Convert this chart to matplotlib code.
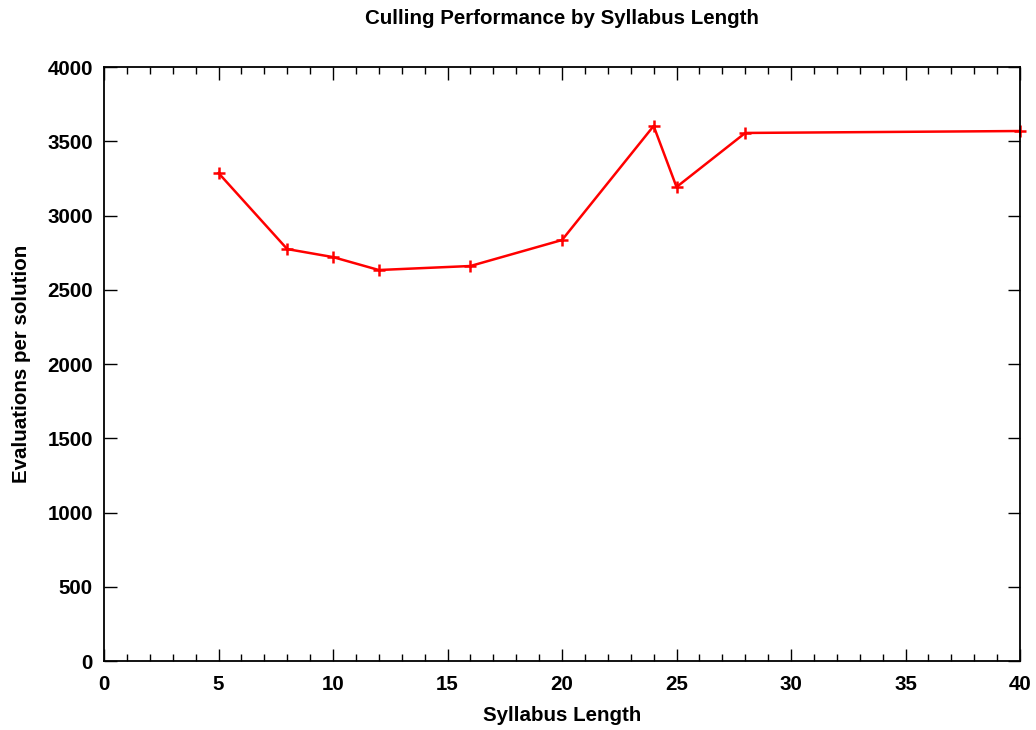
import matplotlib
matplotlib.use("Agg")
import matplotlib.pyplot as plt
from matplotlib.ticker import MultipleLocator

# ─── Data ────────────────────────────────────────────────────────
syllabus_length = [5, 8, 10, 12, 16, 20, 24, 25, 28, 40]
evals_per_solution = [3286, 2774, 2720, 2633, 2660, 2835, 3603, 3192, 3556, 3569]

plt.rcParams["font.family"] = ["Liberation Sans", "DejaVu Sans"]
plt.rcParams["font.weight"] = "bold"
FS = 14.8

fig = plt.figure(figsize=(10.36, 7.30), dpi=100)
ax = fig.add_axes([0.1004, 0.0945, 0.8842, 0.8137])

ax.plot(syllabus_length, evals_per_solution, color="red", linewidth=1.8,
        marker="+", markersize=8, markeredgewidth=1.8, clip_on=False)

ax.set_xlim(0, 40)
ax.set_ylim(0, 4000)
ax.xaxis.set_major_locator(MultipleLocator(5))
ax.xaxis.set_minor_locator(MultipleLocator(1))
ax.yaxis.set_major_locator(MultipleLocator(500))

ax.tick_params(which="both", direction="in", top=True, right=True,
               labelsize=FS, width=1.0)
ax.tick_params(axis="x", pad=10)
ax.tick_params(axis="y", pad=8)
ax.tick_params(which="major", length=9)
ax.tick_params(which="minor", length=5)
for s in ax.spines.values():
    s.set_linewidth(1.3)

for lbl in ax.get_xticklabels() + ax.get_yticklabels():
    lbl.set_fontweight("bold")

ax.set_xlabel("Syllabus Length", fontsize=FS, fontweight="bold", labelpad=9)
ax.set_ylabel("Evaluations per solution", fontsize=FS, fontweight="bold", labelpad=12)
ax.set_title("Culling Performance by Syllabus Length", fontsize=FS,
             fontweight="bold", pad=31)

fig.savefig("out.png", dpi=100)
